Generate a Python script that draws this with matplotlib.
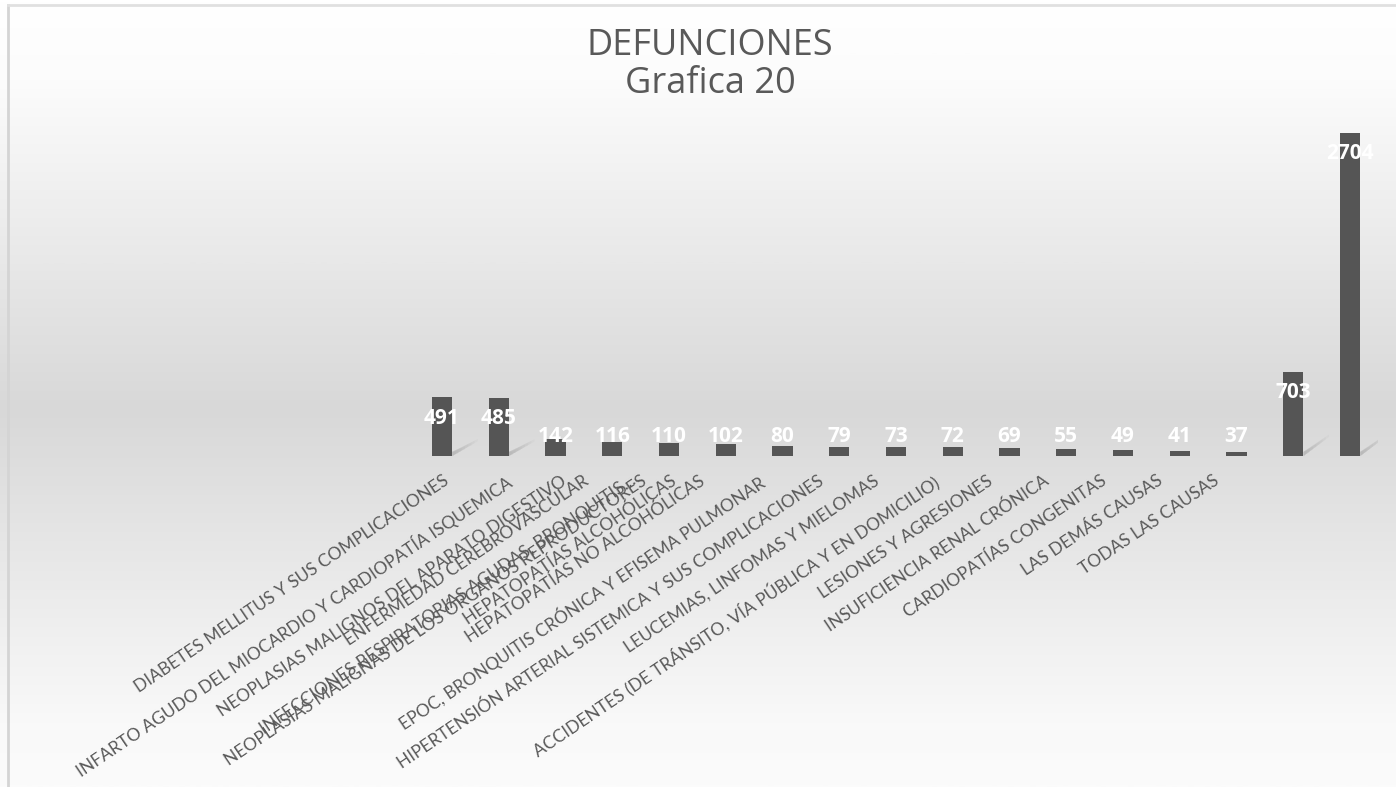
import numpy as np
import matplotlib
matplotlib.use("Agg")
import matplotlib.pyplot as plt
from matplotlib.colors import LinearSegmentedColormap
from matplotlib.patches import Polygon

# ---- data ----
categories = [
    "DIABETES MELLITUS Y SUS COMPLICACIONES",
    "INFARTO AGUDO DEL MIOCARDIO Y CARDIOPATÍA ISQUEMICA",
    "NEOPLASIAS MALIGNOS DEL APARATO DIGESTIVO",
    "ENFERMEDAD CEREBROVASCULAR",
    "INFECCIONES RESPIRATORIAS AGUDAS, BRONQUITIS…",
    "NEOPLASIAS MALIGNAS DE LOS ÓRGANOS REPRODUCTORES",
    "HEPATOPATÍAS ALCOHÓLICAS",
    "HEPATOPATÍAS NO ALCOHÓLICAS",
    "EPOC, BRONQUITIS CRÓNICA Y EFISEMA PULMONAR",
    "HIPERTENSIÓN ARTERIAL SISTEMICA Y SUS COMPLICACIONES",
    "LEUCEMIAS, LINFOMAS Y MIELOMAS",
    "ACCIDENTES (DE TRÁNSITO, VÍA PÚBLICA Y EN DOMICILIO)",
    "LESIONES Y AGRESIONES",
    "INSUFICIENCIA RENAL CRÓNICA",
    "CARDIOPATÍAS CONGENITAS",
    "LAS DEMÁS CAUSAS",
    "TODAS LAS CAUSAS",
]
values = [491, 485, 142, 116, 110, 102, 80, 79, 73, 72, 69, 55, 49, 41, 37, 703, 2704]
title_line1 = "DEFUNCIONES"
title_line2 = "Grafica 20"

# ---- layout (label anchor positions as in the reference, in pixels) ----
label_anchor_px = [443, 505, 560, 583, 630, 640, 670, 698, 758, 817, 873, 932,
                   987, 1043, 1100, 1157, 1213]

W, H = 1396, 787
fig = plt.figure(figsize=(W / 100, H / 100), dpi=100)
plt.rcParams['font.family'] = ['Lato', 'DejaVu Sans']

# background gradient
bg = fig.add_axes([0, 0, 1, 1], zorder=-10)
cmap = LinearSegmentedColormap.from_list(
    "bg", [(0.0, "#ffffff"), (0.10, "#fcfcfc"), (0.52, "#d8d8d8"),
           (0.92, "#f9f9f9"), (1.0, "#fbfbfb")])
grad = np.linspace(0, 1, 512).reshape(-1, 1)
bg.imshow(grad, aspect="auto", cmap=cmap, extent=[0, 1, 0, 1], origin="upper")
bg.plot([8 / W, 8 / W], [0, 1 - 5 / H], color="#d4d4d4", lw=2)
bg.plot([8 / W, 1], [1 - 5 / H, 1 - 5 / H], color="#e0e0e0", lw=2)
bg.set_xlim(0, 1)
bg.set_ylim(0, 1)
bg.axis("off")

# main axes
spacing = 56.75
x0_px = 442
left_px = x0_px - spacing / 2
right_px = x0_px + spacing * (len(values) - 1) + spacing / 2
base_px, top_px = 456, 97.5
ax = fig.add_axes([left_px / W, 1 - base_px / H, (right_px - left_px) / W,
                   (base_px - top_px) / H])
ax.set_facecolor("none")
x = np.arange(len(values))
bw = 0.36
ax.bar(x, values, width=bw, color="#555555", zorder=3)
ax.set_xlim(-0.5, len(values) - 0.5)
ax.set_ylim(0, 3000)

# soft perspective shadows at the base of the tall bars
for xi, v in zip(x, values):
    if v < 300:
        continue
    h = min(v * 0.25, 160)
    for k in range(8):
        f = 1 - k / 8
        poly = Polygon([(xi + bw / 2, 0), (xi + bw / 2 + 0.45 * f, h * f),
                        (xi + bw / 2 + 0.45 * f, h * f + 20), (xi + bw / 2, 35)],
                       closed=True, facecolor="#8c8c8c", edgecolor="none",
                       alpha=0.06, zorder=2)
        ax.add_patch(poly)

for xi, v in zip(x, values):
    ax.text(xi, max(v - 175, 160), f"{v}", ha="center", va="center",
            color="white", fontsize=15, fontweight="bold", zorder=5,
            family=["Open Sans", "DejaVu Sans"])

tick_pos = [(p - x0_px) / spacing for p in label_anchor_px]
ax.set_xticks(tick_pos)
ax.set_xticklabels(categories, rotation=34, ha="right", rotation_mode="anchor",
                   fontsize=12.5, color="#595959")
ax.tick_params(axis="x", length=0, pad=12)
ax.set_yticks([])
for s in ax.spines.values():
    s.set_visible(False)

fig.text(710 / W, 1 - 55 / H, title_line1, ha="center", va="baseline",
         fontsize=26, color="#595959", family=["Open Sans", "DejaVu Sans"])
fig.text(710 / W, 1 - 93 / H, title_line2, ha="center", va="baseline",
         fontsize=26, color="#595959", family=["Open Sans", "DejaVu Sans"])

fig.savefig("out.png", dpi=100)
